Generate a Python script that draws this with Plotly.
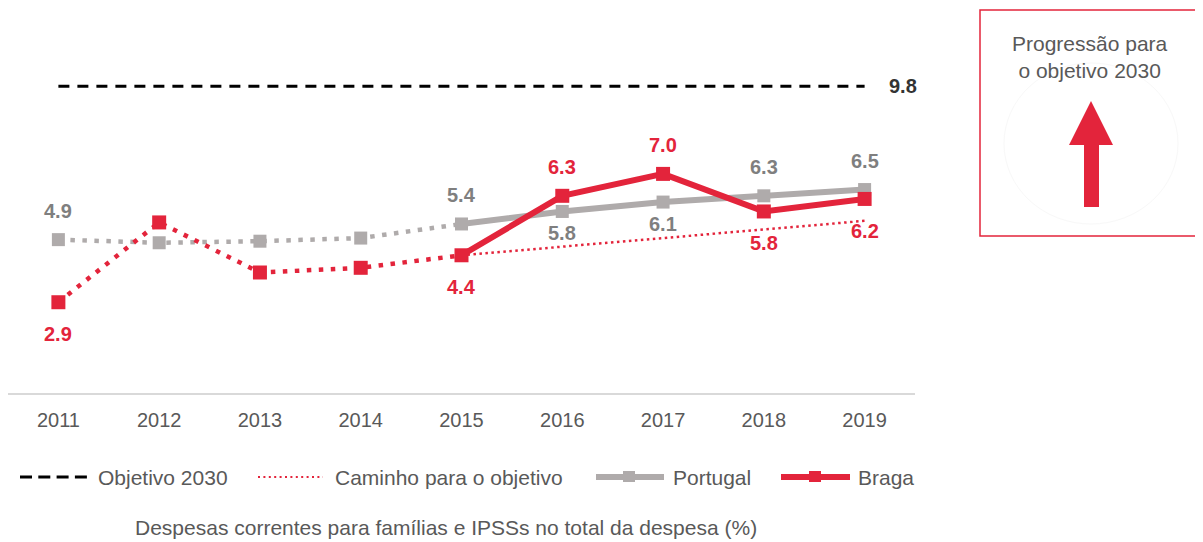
import plotly.graph_objects as go

# ---------------- data ----------------
years = ["2011", "2012", "2013", "2014", "2015", "2016", "2017", "2018", "2019"]
portugal = [4.9, 4.8, 4.85, 4.95, 5.4, 5.8, 6.1, 6.3, 6.5]
braga = [2.9, 5.45, 3.85, 4.0, 4.4, 6.3, 7.0, 5.8, 6.2]
objetivo_2030 = 9.8
caminho_years = ["2015", "2019"]
caminho = [4.4, 5.5]
# which points get a value label, and where (above / below / none)
portugal_label_pos = ["above", None, None, None, "above", "below", "below", "above", "above"]
braga_label_pos = ["below", None, None, None, "below", "above", "above", "below", "below"]

# ---------------- styles ----------------
RED = "#E3243B"
GRAY_LINE = "#AFABAB"
GRAY_TXT = "#7F7F7F"
TXT = "#595959"
FONT = "Liberation Sans, Arial, sans-serif"

# the page body adds an 8px offset; figure is sized to fit the window
OFF = 8
W, H = 1203 - OFF, 542 - OFF
L, R, T, B = 0, 288, 52, 149
plotW, plotH = W - L - R, H - T - B
PX_PER_UNIT = 31.3


def pxx(x):  # x in window pixels -> paper
    return (x - OFF - L) / plotW


def pyy(y):  # y in window pixels -> paper
    return (H - B - (y - OFF)) / plotH


split = years.index("2015")
xi = {y: i for i, y in enumerate(years)}

fig = go.Figure()

# objective line
fig.add_trace(go.Scatter(x=[years[0], years[-1]], y=[objetivo_2030, objetivo_2030], mode="lines",
                         line=dict(color="#000000", width=3, dash="11px,8px"),
                         hoverinfo="skip", showlegend=False))
# path to objective
fig.add_trace(go.Scatter(x=caminho_years, y=caminho, mode="lines",
                         line=dict(color=RED, width=2.5, dash="2.5px,3.5px"),
                         hoverinfo="skip", showlegend=False))
# Portugal
fig.add_trace(go.Scatter(x=years[:split + 1], y=portugal[:split + 1], mode="lines",
                         line=dict(color=GRAY_LINE, width=4.5, dash="4.5px,7.5px"),
                         showlegend=False))
fig.add_trace(go.Scatter(x=years[split:], y=portugal[split:], mode="lines",
                         line=dict(color=GRAY_LINE, width=6), showlegend=False))
fig.add_trace(go.Scatter(x=years, y=portugal, mode="markers",
                         marker=dict(symbol="square", size=13, color=GRAY_LINE),
                         showlegend=False))
# Braga
fig.add_trace(go.Scatter(x=years[:split + 1], y=braga[:split + 1], mode="lines",
                         line=dict(color=RED, width=4.5, dash="4.5px,7.5px"),
                         showlegend=False))
fig.add_trace(go.Scatter(x=years[split:], y=braga[split:], mode="lines",
                         line=dict(color=RED, width=6), showlegend=False))
fig.add_trace(go.Scatter(x=years, y=braga, mode="markers",
                         marker=dict(symbol="square", size=14, color=RED),
                         showlegend=False))

annotations = []
shapes = []

# value labels
for yr, v, pos in zip(years, portugal, portugal_label_pos):
    if pos:
        annotations.append(dict(x=xi[yr], y=v, xref="x", yref="y", text=f"<b>{v:.1f}</b>",
                                showarrow=False, yshift=29 if pos == "above" else -22,
                                font=dict(size=20, color=GRAY_TXT, family=FONT)))
for yr, v, pos in zip(years, braga, braga_label_pos):
    if pos:
        annotations.append(dict(x=xi[yr], y=v, xref="x", yref="y", text=f"<b>{v:.1f}</b>",
                                showarrow=False, yshift=29 if pos == "above" else -32,
                                font=dict(size=20, color=RED, family=FONT)))
annotations.append(dict(x=xi[years[-1]], y=objetivo_2030, xref="x", yref="y",
                        text=f"<b>{objetivo_2030:.1f}</b>", showarrow=False,
                        xanchor="left", xshift=22,
                        font=dict(size=20, color="#333333", family=FONT)))

# ---------------- manual legend ----------------
LY = 477
LEG_FONT = dict(size=21, color=TXT, family=FONT)
shapes.append(dict(type="line", xref="paper", yref="paper", x0=pxx(20), x1=pxx(87), y0=pyy(LY), y1=pyy(LY),
                   line=dict(color="#000000", width=3, dash="12px,6.3px")))
annotations.append(dict(xref="paper", yref="paper", x=pxx(96), y=pyy(LY), xanchor="left", yanchor="middle",
                        text="Objetivo 2030", showarrow=False, font=LEG_FONT))
shapes.append(dict(type="line", xref="paper", yref="paper", x0=pxx(258), x1=pxx(323), y0=pyy(LY), y1=pyy(LY),
                   line=dict(color=RED, width=2, dash="2px,3.4px")))
annotations.append(dict(xref="paper", yref="paper", x=pxx(333), y=pyy(LY), xanchor="left", yanchor="middle",
                        text="Caminho para o objetivo", showarrow=False, font=LEG_FONT))
shapes.append(dict(type="line", xref="paper", yref="paper", x0=pxx(596), x1=pxx(664), y0=pyy(LY), y1=pyy(LY),
                   line=dict(color=GRAY_LINE, width=6)))
shapes.append(dict(type="rect", xref="paper", yref="paper", x0=pxx(623), x1=pxx(635), y0=pyy(LY - 6), y1=pyy(LY + 5),
                   line=dict(width=0), fillcolor=GRAY_LINE))
annotations.append(dict(xref="paper", yref="paper", x=pxx(671), y=pyy(LY), xanchor="left", yanchor="middle",
                        text="Portugal", showarrow=False, font=LEG_FONT))
shapes.append(dict(type="line", xref="paper", yref="paper", x0=pxx(781), x1=pxx(850), y0=pyy(LY), y1=pyy(LY),
                   line=dict(color=RED, width=6)))
shapes.append(dict(type="rect", xref="paper", yref="paper", x0=pxx(809), x1=pxx(821), y0=pyy(LY - 6), y1=pyy(LY + 5),
                   line=dict(width=0), fillcolor=RED))
annotations.append(dict(xref="paper", yref="paper", x=pxx(856), y=pyy(LY), xanchor="left", yanchor="middle",
                        text="Braga", showarrow=False, font=LEG_FONT))

# bottom title
annotations.append(dict(xref="paper", yref="paper", x=pxx(446), y=pyy(527), xanchor="center", yanchor="middle",
                        text="Despesas correntes para famílias e IPSSs no total da despesa (%)",
                        showarrow=False, font=dict(size=21, color=TXT, family=FONT)))

# ---------------- progress box ----------------
shapes.append(dict(type="rect", xref="paper", yref="paper", x0=pxx(980), x1=pxx(1201), y0=pyy(10), y1=pyy(236),
                   line=dict(color=RED, width=1.5), fillcolor="rgba(0,0,0,0)"))
shapes.append(dict(type="circle", xref="paper", yref="paper", x0=pxx(1004), x1=pxx(1178), y0=pyy(63), y1=pyy(224),
                   line=dict(color="#F8F8F8", width=1)))
annotations.append(dict(xref="paper", yref="paper", x=pxx(1090), y=pyy(57), xanchor="center", yanchor="middle",
                        text="Progressão para<br>o objetivo 2030", showarrow=False,
                        font=dict(size=21, color=TXT, family=FONT)))
shapes.append(dict(type="path", xref="paper", yref="paper",
                   path=(f"M{pxx(1091)},{pyy(101)} L{pxx(1113)},{pyy(145)} L{pxx(1099)},{pyy(145)} "
                         f"L{pxx(1099)},{pyy(207)} L{pxx(1084)},{pyy(207)} L{pxx(1084)},{pyy(145)} "
                         f"L{pxx(1069)},{pyy(145)} Z"),
                   line=dict(width=0), fillcolor=RED))

fig.update_layout(
    width=W, height=H,
    margin=dict(l=L, r=R, t=T, b=B),
    paper_bgcolor="white", plot_bgcolor="white",
    showlegend=False,
    font=dict(family=FONT, color=TXT),
    annotations=annotations,
    shapes=shapes,
    xaxis=dict(type="category", categoryorder="array", categoryarray=years,
               range=[-0.5, len(years) - 0.5], showgrid=False, zeroline=False,
               showline=True, linecolor="#D9D9D9", linewidth=2,
               ticks="outside", ticklen=8, tickcolor="rgba(0,0,0,0)",
               tickfont=dict(size=20, color=TXT, family=FONT)),
    yaxis=dict(range=[0, plotH / PX_PER_UNIT], visible=False, showgrid=False, zeroline=False),
)

fig.write_html("out.html")
